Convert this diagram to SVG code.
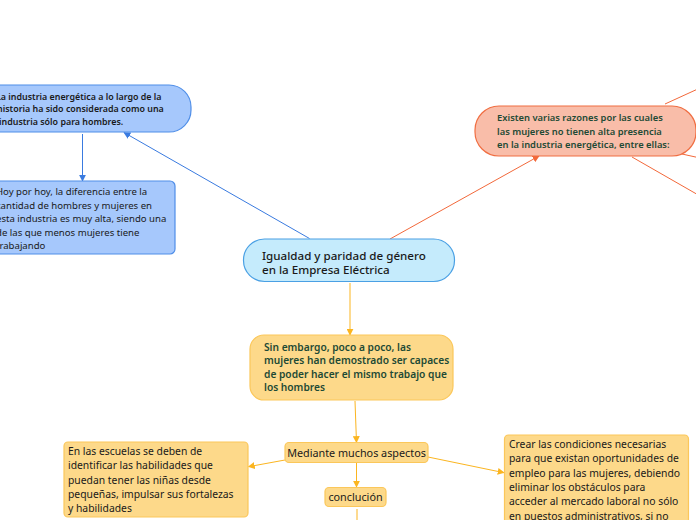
<svg xmlns="http://www.w3.org/2000/svg" width="696" height="520" viewBox="0 0 696 520">
<style>
text{font-family:"Noto Sans","Open Sans","DejaVu Sans",sans-serif;}
.t9{font-size:9.6px;}
.t10{font-size:10.2px;}
.b{font-weight:600;}
.dk{fill:#1a1a1a;}
.gr{fill:#1d4a35;}
.yt{font-size:10.35px;}
.blue{fill:#a6c8fc;stroke:#4f8ee8;stroke-width:1.2;}
.cen{fill:#c5ebfc;stroke:#4aa0e4;stroke-width:1.2;}
.sal{fill:#f9bda9;stroke:#f06e42;stroke-width:1.2;}
.yel{fill:#fdd98a;stroke:#fbc75a;stroke-width:1.2;}
.cb{stroke:#3a7be0;stroke-width:1;fill:none;}
.cr{stroke:#f2683a;stroke-width:1;fill:none;}
.cy{stroke:#fbb520;stroke-width:1;fill:none;}
</style>
<defs>
<marker id="ab" viewBox="0 0 10 10" refX="9" refY="5" markerWidth="7" markerHeight="7" markerUnits="userSpaceOnUse" orient="auto"><path d="M0,0L10,5L0,10z" fill="#3a7be0"/></marker>
<marker id="ar" viewBox="0 0 10 10" refX="9" refY="5" markerWidth="7" markerHeight="7" markerUnits="userSpaceOnUse" orient="auto"><path d="M0,0L10,5L0,10z" fill="#f2683a"/></marker>
<marker id="ay" viewBox="0 0 10 10" refX="9" refY="5" markerWidth="7" markerHeight="7" markerUnits="userSpaceOnUse" orient="auto"><path d="M0,0L10,5L0,10z" fill="#fbb520"/></marker>
</defs>
<rect width="696" height="520" fill="#ffffff"/>
<g id="connectors">
<line class="cb" x1="309.5" y1="238.5" x2="124" y2="132.5" marker-end="url(#ab)"/>
<line class="cb" x1="82.5" y1="134" x2="82.5" y2="181" marker-end="url(#ab)"/>
<line class="cr" x1="390" y1="239" x2="539" y2="156" marker-end="url(#ar)"/>
<line class="cr" x1="665" y1="104" x2="700" y2="88"/>
<line class="cr" x1="682" y1="154" x2="700" y2="158"/>
<line class="cr" x1="632" y1="157" x2="700" y2="196"/>
<line class="cy" x1="350" y1="283" x2="350" y2="335" marker-end="url(#ay)"/>
<line class="cy" x1="355" y1="401" x2="356.5" y2="442.5" marker-end="url(#ay)"/>
<line class="cy" x1="356.5" y1="463" x2="356.5" y2="487" marker-end="url(#ay)"/>
<line class="cy" x1="357" y1="509" x2="357" y2="521"/>
<line class="cy" x1="285" y1="460" x2="248.5" y2="466.7" marker-end="url(#ay)"/>
<line class="cy" x1="428" y1="457" x2="504" y2="472.7" marker-end="url(#ay)"/>
</g>
<g id="n-industria">
<rect class="blue" x="-30" y="85" width="221" height="47" rx="22"/>
<text class="b dk" style="font-size:8.9px" x="-4" y="99.5">La industria energética a lo largo de la</text>
<text class="b dk" style="font-size:8.9px" x="-3" y="112">historia ha sido considerada como una</text>
<text class="b dk" style="font-size:8.9px" x="-1" y="124.5">industria sólo para hombres.</text>
</g>
<g id="n-hoy">
<rect class="blue" x="-20" y="181" width="195" height="73" rx="5"/>
<text class="t9 dk" x="-4" y="195">Hoy por hoy, la diferencia entre la</text>
<text class="t9 dk" x="-4" y="208.5">cantidad de hombres y mujeres en</text>
<text class="t9 dk" x="-4" y="222">esta industria es muy alta, siendo una</text>
<text class="t9 dk" x="-4" y="235.5">de las que menos mujeres tiene</text>
<text class="t9 dk" x="-4" y="249">trabajando</text>
</g>
<g id="n-central">
<rect class="cen" x="243.5" y="239" width="211" height="42.5" rx="21"/>
<text class="dk" style="font-size:11.6px;font-weight:500" x="262" y="259.5">Igualdad y paridad de género</text>
<text class="dk" style="font-size:11.6px;font-weight:500" x="262" y="274">en la Empresa Eléctrica</text>
</g>
<g id="n-razones">
<rect class="sal" x="475" y="106" width="221" height="50" rx="24"/>
<text class="b gr" style="font-size:9.4px" x="497" y="121">Existen varias razones por las cuales</text>
<text class="b gr" style="font-size:9.4px" x="497" y="134.5">las mujeres no tienen alta presencia</text>
<text class="b gr" style="font-size:9.4px" x="497" y="147.5">en la industria energética, entre ellas:</text>
</g>
<g id="n-sinembargo">
<rect class="yel" x="250" y="335" width="203" height="65" rx="14"/>
<text class="t10 b gr" x="264" y="350.5">Sin embargo, poco a poco, las</text>
<text class="t10 b gr" x="264" y="364">mujeres han demostrado ser capaces</text>
<text class="t10 b gr" x="264" y="377.5">de poder hacer el mismo trabajo que</text>
<text class="t10 b gr" x="264" y="391">los hombres</text>
</g>
<g id="n-mediante">
<rect class="yel" x="285" y="442.5" width="143" height="20" rx="4"/>
<text class="dk" style="font-size:10.8px" x="356.5" y="456.5" text-anchor="middle">Mediante muchos aspectos</text>
</g>
<g id="n-conclucion">
<rect class="yel" x="325" y="487.5" width="61" height="19" rx="4"/>
<text class="dk" style="font-size:10.8px" x="355.5" y="501" text-anchor="middle">conclución</text>
</g>
<g id="n-escuelas">
<rect class="yel" x="64" y="442" width="184" height="75" rx="4"/>
<text class="dk yt" x="68" y="455">En las escuelas se deben de</text>
<text class="dk yt" x="68" y="469.3">identificar las habilidades que</text>
<text class="dk yt" x="68" y="483.6">puedan tener las niñas desde</text>
<text class="dk yt" x="68" y="497.9">pequeñas, impulsar sus fortalezas</text>
<text class="dk yt" x="68" y="512.2">y habilidades</text>
</g>
<g id="n-crear">
<rect class="yel" x="504.5" y="435" width="184" height="100" rx="4"/>
<text class="dk yt" x="509" y="448">Crear las condiciones necesarias</text>
<text class="dk yt" x="509" y="462.3">para que existan oportunidades de</text>
<text class="dk yt" x="509" y="476.6">empleo para las mujeres, debiendo</text>
<text class="dk yt" x="509" y="490.9">eliminar los obstáculos para</text>
<text class="dk yt" x="509" y="505.2">acceder al mercado laboral no sólo</text>
<text class="dk yt" x="509" y="519.5">en puestos administrativos, si no</text>
</g>
</svg>
